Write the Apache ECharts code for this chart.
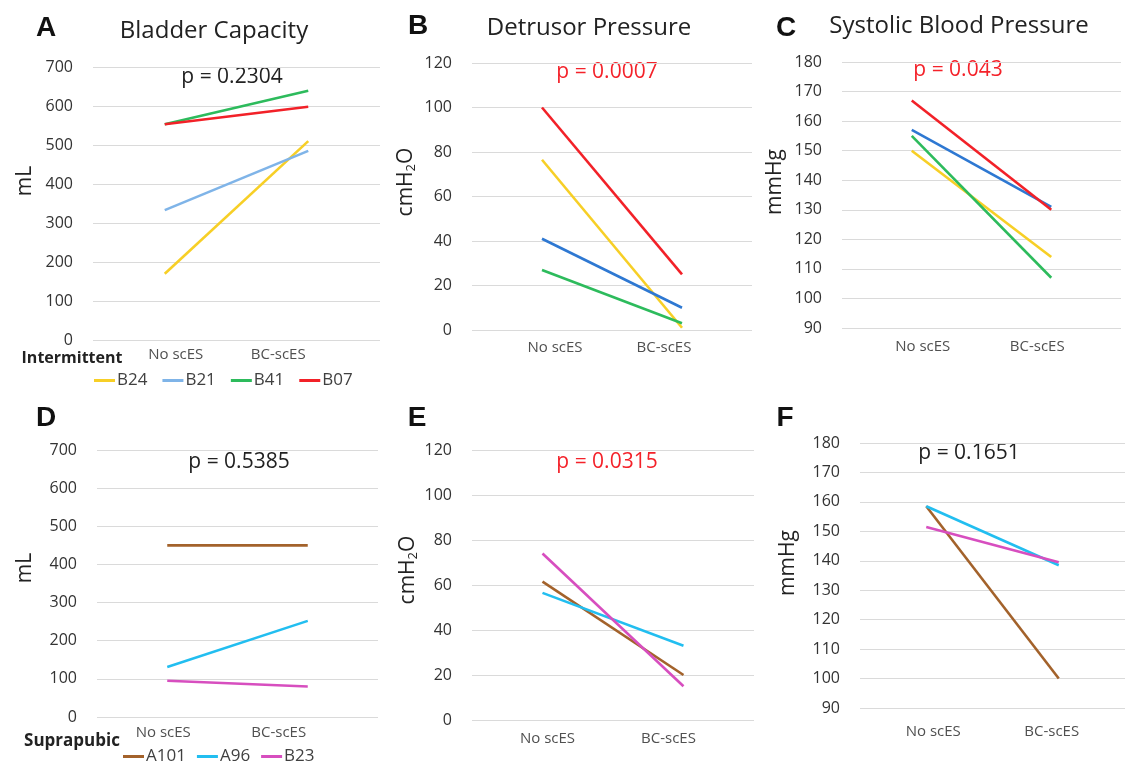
<!DOCTYPE html>
<html><head><meta charset="utf-8">
<script src="https://cdn.jsdelivr.net/npm/echarts@6/dist/echarts.min.js"></script>
<style>html,body{margin:0;padding:0;background:#fff}#c{width:1125px;height:764px}</style>
</head><body><div id="c"></div>
<script>
// ---- data ----
const categories = ['No scES', 'BC-scES'];
const intermittentIds = ['B24', 'B21', 'B41', 'B07'];
const suprapubicIds = ['A101', 'A96', 'B23'];

// [No scES, BC-scES] per subject, in id order
const capacityIntermittent = [[170, 510], [333, 485], [553, 639], [553, 598]];
const detrusorIntermittent = [[76.5, 1], [41, 10], [27, 3], [100, 25]];
const sbpIntermittent = [[150, 114], [157, 131], [155, 107], [167, 130]];
const capacitySuprapubic = [[450, 450], [131, 252], [95, 80]];
const detrusorSuprapubic = [[61.5, 20], [56.5, 33], [74, 15]];
const sbpSuprapubic = [[158.5, 100], [158.5, 138.5], [151.5, 139.5]];

const capacityTicks = [0, 700, 100];   // min, max, interval
const detrusorTicks = [0, 120, 20];
const sbpTicks = [90, 180, 10];

const pValues = ['p = 0.2304', 'p = 0.0007', 'p = 0.043', 'p = 0.5385', 'p = 0.0315', 'p = 0.1651'];
const titles = ['Bladder Capacity', 'Detrusor Pressure', 'Systolic Blood Pressure'];
const letters = ['A', 'B', 'C', 'D', 'E', 'F'];

// ---- styling / layout ----
const FONT = 'Open Sans';
const intermittentColorsA = ['#F7CF26', '#7FB4E8', '#2DBB5C', '#F22128'];
const intermittentColors = ['#F7CF26', '#2E78D2', '#2DBB5C', '#F22128'];
const suprapubicColors = ['#A3622B', '#22BEF0', '#D74EBF'];

const panels = [
  {grid: {left: 93, top: 67, width: 287, height: 273}, data: capacityIntermittent, ids: intermittentIds, colors: intermittentColorsA, ticks: capacityTicks, shift: [11, -30], cm: 7},
  {grid: {left: 472, top: 63, width: 280, height: 267}, data: detrusorIntermittent, ids: intermittentIds, colors: intermittentColors, ticks: detrusorTicks, shift: [13, -18], cm: 10},
  {grid: {left: 842, top: 62, width: 279, height: 266}, data: sbpIntermittent, ids: intermittentIds, colors: intermittentColors, ticks: sbpTicks, shift: [11, -14], cm: 11},
  {grid: {left: 97, top: 450, width: 281, height: 267}, data: capacitySuprapubic, ids: suprapubicIds, colors: suprapubicColors, ticks: capacityTicks, shift: [-4, -29], cm: 8},
  {grid: {left: 472, top: 450, width: 282, height: 270}, data: detrusorSuprapubic, ids: suprapubicIds, colors: suprapubicColors, ticks: detrusorTicks, shift: [5, -15], cm: 11},
  {grid: {left: 860, top: 443, width: 275, height: 265}, data: sbpSuprapubic, ids: suprapubicIds, colors: suprapubicColors, ticks: sbpTicks, shift: [7, -7], cm: 16}
];

function pad(s) { return s >= 0 ? [0, 0, 0, 2 * s] : [0, -2 * s, 0, 0]; }

const grids = [], xAxes = [], yAxes = [], series = [];
panels.forEach((p, i) => {
  grids.push(Object.assign({containLabel: false}, p.grid));
  xAxes.push({
    type: 'category', gridIndex: i, data: categories, boundaryGap: true,
    axisLine: {show: false}, axisTick: {show: false},
    axisLabel: {
      margin: p.cm, fontFamily: FONT, fontSize: 15, color: '#505050', interval: 0,
      formatter: (v, idx) => (idx === 0 ? '{l|' + v + '}' : '{r|' + v + '}'),
      rich: {
        l: {fontFamily: FONT, fontSize: 15, color: '#505050', padding: pad(p.shift[0])},
        r: {fontFamily: FONT, fontSize: 15, color: '#505050', padding: pad(p.shift[1])}
      }
    }
  });
  yAxes.push({
    type: 'value', gridIndex: i, min: p.ticks[0], max: p.ticks[1], interval: p.ticks[2],
    axisLine: {show: false}, axisTick: {show: false},
    splitLine: {lineStyle: {color: '#DADADA', width: 1}},
    axisLabel: {margin: 20, fontFamily: FONT, fontSize: 16, color: '#333'}
  });
  p.data.forEach((vals, k) => {
    series.push({
      type: 'line', name: p.ids[k], xAxisIndex: i, yAxisIndex: i, data: vals,
      showSymbol: false, symbol: 'none', silent: true, animation: false,
      lineStyle: {width: 2.6, color: p.colors[k]}, itemStyle: {color: p.colors[k]}
    });
  });
});

const graphics = [];
function txt(x, y, text, opts) {
  graphics.push({
    type: 'text', x: x, y: y, rotation: opts.rotation || 0, silent: true,
    style: Object.assign({text: text, fontFamily: FONT, align: 'center', verticalAlign: 'middle', fill: '#222'}, opts.style || {})
  });
}
// panel letters
[[46, 28], [418, 26], [786, 28], [46, 418], [417, 418], [785, 418]].forEach((pos, i) =>
  txt(pos[0], pos[1], letters[i], {style: {fontSize: 28, fontWeight: 'bold', fontFamily: 'Liberation Sans', fill: '#111'}}));
// titles
[[214, 31], [589, 28], [959, 26]].forEach((pos, i) =>
  txt(pos[0], pos[1], titles[i], {style: {fontSize: 24, fill: '#222'}}));
// p-values
const pPos = [[232, 77], [607, 72], [958, 70], [239, 462], [607, 462], [969, 453]];
const pCol = ['#222', '#F4222A', '#F4222A', '#222', '#F4222A', '#222'];
pPos.forEach((pos, i) => txt(pos[0], pos[1], pValues[i], {style: {fontSize: 21, fill: pCol[i]}}));
// y-axis names
const R = Math.PI / 2;
txt(25, 181, 'mL', {rotation: R, style: {fontSize: 21}});
txt(25, 568, 'mL', {rotation: R, style: {fontSize: 21}});
txt(775, 182, 'mmHg', {rotation: R, style: {fontSize: 21}});
txt(788, 563, 'mmHg', {rotation: R, style: {fontSize: 21}});
const cmRich = {a: {fontFamily: FONT, fontSize: 21, fill: '#222'}, b: {fontFamily: FONT, fontSize: 13, fill: '#222', padding: [10, 0, 0, 0]}};
txt(406, 182, '{a|cmH}{b|2}{a|O}', {rotation: R, style: {rich: cmRich}});
txt(408, 570, '{a|cmH}{b|2}{a|O}', {rotation: R, style: {rich: cmRich}});
// group labels
txt(72, 358, 'Intermittent', {style: {fontSize: 16, fontWeight: 'bold', fill: '#222'}});
txt(72, 741, 'Suprapubic', {style: {fontSize: 17, fontWeight: 'bold', fill: '#222'}});

const chart = echarts.init(document.getElementById('c'), null, {renderer: 'canvas'});
chart.setOption({
  animation: false,
  backgroundColor: '#fff',
  grid: grids, xAxis: xAxes, yAxis: yAxes, series: series,
  legend: [
    {data: intermittentIds, left: 89, top: 367, icon: 'rect', itemWidth: 21, itemHeight: 3, itemGap: 15,
     selectedMode: false, textStyle: {fontFamily: FONT, fontSize: 17, color: '#404040', padding: [0, 0, 0, -3]}},
    {data: suprapubicIds, left: 118, top: 743, icon: 'rect', itemWidth: 21, itemHeight: 3, itemGap: 11,
     selectedMode: false, textStyle: {fontFamily: FONT, fontSize: 17, color: '#404040', padding: [0, 0, 0, -3]}}
  ],
  graphic: graphics
});
</script></body></html>
